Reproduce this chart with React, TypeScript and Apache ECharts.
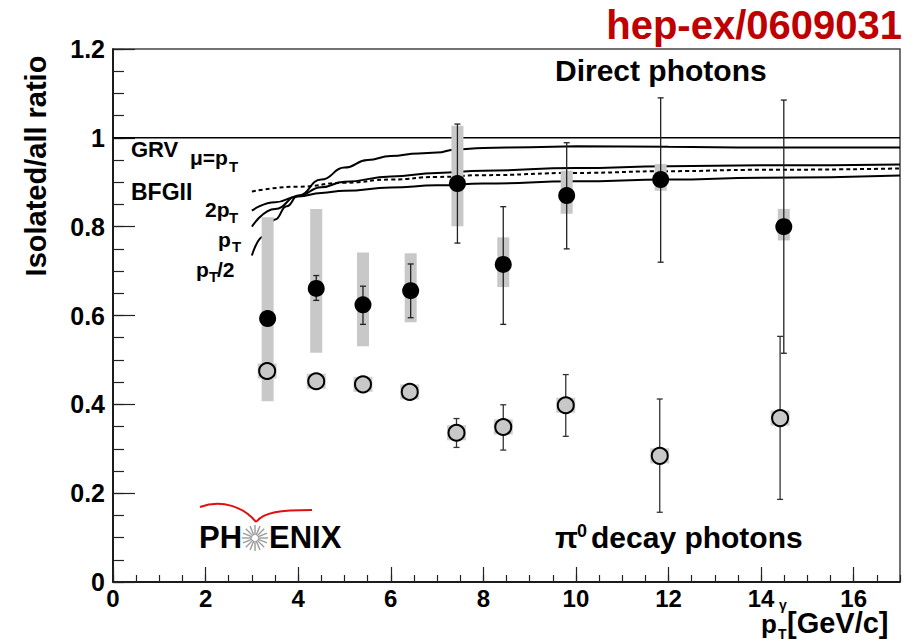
import React, { useEffect, useRef } from "react";
import * as echarts from "echarts";

// ---------------- data ----------------
const directX = [3.34, 4.39, 5.4, 6.43, 7.44, 8.43, 9.8, 11.83, 14.49];
const directY = [0.593, 0.661, 0.624, 0.656, 0.897, 0.715, 0.87, 0.906, 0.8];
const directStatLo = [0.585, 0.634, 0.58, 0.595, 0.763, 0.58, 0.75, 0.72, 0.515];
const directStatHi = [0.601, 0.69, 0.666, 0.716, 1.031, 0.845, 0.989, 1.09, 1.085];
const directSysLo = [0.407, 0.516, 0.531, 0.585, 0.801, 0.664, 0.829, 0.881, 0.769];
const directSysHi = [0.821, 0.84, 0.742, 0.74, 1.027, 0.776, 0.926, 0.941, 0.84];

const pi0X = [3.33, 4.39, 5.4, 6.41, 7.42, 8.43, 9.78, 11.81, 14.41];
const pi0Y = [0.475, 0.452, 0.445, 0.428, 0.336, 0.349, 0.398, 0.284, 0.369];
const pi0StatLo = [0.467, 0.444, 0.437, 0.42, 0.303, 0.297, 0.328, 0.157, 0.186];
const pi0StatHi = [0.483, 0.46, 0.453, 0.436, 0.368, 0.399, 0.467, 0.412, 0.553];
const pi0SysLo = [0.458, 0.435, 0.428, 0.411, 0.319, 0.332, 0.381, 0.267, 0.352];
const pi0SysHi = [0.492, 0.469, 0.462, 0.445, 0.353, 0.366, 0.415, 0.301, 0.386];

// GRV theory curves (mu = pT/2, pT, 2pT) and BFGII
const grvHalfX = [3.0, 3.25, 3.5, 3.75, 4.0, 4.5, 5.0, 5.5, 6.0, 6.6, 7.0, 7.4, 8.0, 9.0, 10, 12, 14, 17];
const grvHalfY = [0.735, 0.778, 0.816, 0.846, 0.870, 0.906, 0.933, 0.950, 0.959, 0.965, 0.967, 0.974, 0.977, 0.979, 0.981, 0.98, 0.978, 0.978];
const grvX = [3.0, 3.5, 4.0, 4.5, 5.0, 6.0, 7.0, 8.0, 10, 12, 14, 17];
const grvPtY = [0.8, 0.84, 0.869, 0.889, 0.901, 0.913, 0.921, 0.926, 0.932, 0.936, 0.938, 0.94];
const grv2PtY = [0.836, 0.855, 0.868, 0.876, 0.881, 0.888, 0.893, 0.897, 0.902, 0.906, 0.91, 0.915];
const bfgX = [3.0, 4, 5, 6, 7, 8, 10, 12, 14, 17];
const bfgY = [0.879, 0.89, 0.899, 0.906, 0.912, 0.916, 0.921, 0.925, 0.928, 0.931];
const unityX = [0, 17];
const unityY = [1, 1];

const xMin = 0, xMax = 17, xMajor = 2, xMinor = 0.5;
const yMin = 0, yMax = 1.2, yMajor = 0.2, yMinor = 0.05;

const FONT = '"Liberation Sans", Arial, Helvetica, sans-serif';

const zip = (xs: number[], ys: number[]) => xs.map((x, i) => [x, ys[i]]);

function bandSeries(xs: number[], lo: number[], hi: number[], w: number, color: string, z: number) {
  return {
    type: "custom",
    z,
    clip: true,
    encode: { x: 0, y: [1, 2] },
    data: xs.map((x, i) => [x, lo[i], hi[i]]),
    renderItem: (_p: any, api: any) => {
      const x = api.value(0), l = api.value(1), h = api.value(2);
      const top = api.coord([x, h]);
      const bot = api.coord([x, l]);
      return {
        type: "rect",
        shape: { x: top[0] - w / 2, y: top[1], width: w, height: bot[1] - top[1] },
        style: { fill: color },
      };
    },
  };
}

function errSeries(xs: number[], lo: number[], hi: number[], color: string, z: number) {
  return {
    type: "custom",
    z,
    clip: true,
    encode: { x: 0, y: [1, 2] },
    data: xs.map((x, i) => [x, lo[i], hi[i]]),
    renderItem: (_p: any, api: any) => {
      const x = api.value(0), l = api.value(1), h = api.value(2);
      const top = api.coord([x, h]);
      const bot = api.coord([x, l]);
      const cw = 3;
      const st = { stroke: color, lineWidth: 1.3 };
      return {
        type: "group",
        children: [
          { type: "line", shape: { x1: top[0], y1: top[1], x2: bot[0], y2: bot[1] }, style: st },
          { type: "line", shape: { x1: top[0] - cw, y1: top[1], x2: top[0] + cw, y2: top[1] }, style: st },
          { type: "line", shape: { x1: bot[0] - cw, y1: bot[1], x2: bot[0] + cw, y2: bot[1] }, style: st },
        ],
      };
    },
  };
}

function curve(xs: number[], ys: number[], dashed = false, width = 2) {
  return {
    type: "line",
    z: 1,
    data: zip(xs, ys),
    showSymbol: false,
    smooth: 0.5,
    smoothMonotone: "x",
    lineStyle: { color: "#000", width, type: dashed ? [4, 3] : "solid" },
    silent: true,
  };
}

// y is the text baseline
function txt(text: string, x: number, baseline: number, size: number, opts: any = {}) {
  return {
    type: "text",
    x,
    y: opts.rotation ? baseline : baseline - 0.36 * size,
    rotation: opts.rotation || 0,
    z: 50,
    style: {
      text,
      fill: opts.color || "#000",
      fontFamily: FONT,
      fontWeight: "bold",
      fontSize: size,
      align: opts.align || "left",
      verticalAlign: "middle",
    },
  };
}

const rays = Array.from({ length: 16 }, (_, i) => {
  const a = (i * Math.PI) / 8;
  const cx = 255, cy = 538;
  return {
    type: "line",
    z: 50,
    shape: {
      x1: cx + Math.cos(a) * 3,
      y1: cy + Math.sin(a) * 3,
      x2: cx + Math.cos(a) * 13,
      y2: cy + Math.sin(a) * 13,
    },
    style: { stroke: "#9a9a9a", lineWidth: 1.4 },
  };
});

export default function App() {
  const ref = useRef<HTMLDivElement>(null);
  useEffect(() => {
    if (!ref.current) return;
    const chart = echarts.init(ref.current, undefined, { renderer: "svg" });
    const axisLabel = { color: "#000", fontFamily: FONT, fontWeight: "bold", fontSize: 24 };
    chart.setOption({
      animation: false,
      backgroundColor: "#fff",
      grid: { left: 113, right: 22, top: 49, bottom: 59, show: true, borderColor: "#444", borderWidth: 1.5, backgroundColor: "transparent" },
      xAxis: [
        {
          type: "value", min: xMin, max: xMax, interval: xMajor, position: "bottom",
          axisLine: { show: true, onZero: false, lineStyle: { color: "#000", width: 1.5 } },
          axisTick: { show: true, inside: true, length: 15, lineStyle: { color: "#222", width: 1.2 } },
          axisLabel: { ...axisLabel, margin: 4, showMaxLabel: false },
          splitLine: { show: false },
        },
        {
          type: "value", min: xMin, max: xMax, interval: xMinor, position: "bottom",
          axisLine: { show: false, onZero: false },
          axisTick: { show: true, inside: true, length: 7, lineStyle: { color: "#222", width: 1.2 } },
          axisLabel: { show: false },
          splitLine: { show: false },
        },
      ],
      yAxis: [
        {
          type: "value", min: yMin, max: yMax, interval: yMajor, position: "left",
          axisLine: { show: true, onZero: false, lineStyle: { color: "#000", width: 1.5 } },
          axisTick: { show: true, inside: true, length: 22, lineStyle: { color: "#222", width: 1.2 } },
          axisLabel: { ...axisLabel, fontSize: 25, margin: 8, formatter: (v: number) => String(Math.round(v * 10) / 10) },
          splitLine: { show: false },
        },
        {
          type: "value", min: yMin, max: yMax, interval: yMinor, position: "left",
          axisLine: { show: false, onZero: false },
          axisTick: { show: true, inside: true, length: 11, lineStyle: { color: "#222", width: 1.2 } },
          axisLabel: { show: false },
          splitLine: { show: false },
        },
      ],
      series: [
        { ...curve(unityX, unityY, false, 1.5), smooth: false },
        curve(grvHalfX, grvHalfY),
        curve(grvX, grvPtY),
        curve(grvX, grv2PtY),
        curve(bfgX, bfgY, true),
        bandSeries(directX, directSysLo, directSysHi, 12, "#c8c8c8", 3),
        bandSeries(pi0X, pi0SysLo, pi0SysHi, 19, "#cfcfcf", 3),
        errSeries(directX, directStatLo, directStatHi, "#222", 4),
        errSeries(pi0X, pi0StatLo, pi0StatHi, "#333", 4),
        {
          type: "scatter", z: 5, data: zip(directX, directY), symbol: "circle", symbolSize: 17,
          itemStyle: { color: "#000", opacity: 1 }, silent: true,
        },
        {
          type: "scatter", z: 5, data: zip(pi0X, pi0Y), symbol: "circle", symbolSize: 16,
          itemStyle: { color: "#c8c8c8", borderColor: "#000", borderWidth: 2, opacity: 1 }, silent: true,
        },
      ],
      graphic: [
        txt("hep-ex/0609031", 902, 39.5, 40, { align: "right", color: "#c00000" }),
        txt("Direct photons", 555, 81.5, 30),
        txt("Isolated/all ratio", 36, 166, 29, { align: "center", rotation: Math.PI / 2 }),
        // x-axis title
        txt("p", 761, 633, 26),
        txt("T", 778, 639, 14),
        txt("γ", 779, 610, 14),
        txt("[GeV/c]", 787, 633, 29),
        // theory labels
        txt("GRV", 131, 157, 22),
        txt("μ=p", 190, 165, 21),
        txt("T", 229, 172, 15),
        txt("BFGII", 131, 200, 23),
        txt("2p", 205, 217, 21),
        txt("T", 229, 223, 15),
        txt("p", 218, 247, 21),
        txt("T", 232, 252, 15),
        txt("p", 196, 277, 21),
        txt("T", 209, 282, 15),
        txt("/2", 217, 277, 21),
        // pi0 label
        txt("π", 555, 548, 30),
        txt("0", 577, 537, 18),
        txt("decay photons", 591, 548, 30),
        // PHENIX logo
        txt("PH", 199, 549, 31),
        txt("ENIX", 269, 549, 31),
        ...rays,
        {
          type: "bezierCurve", z: 50,
          shape: { x1: 200, y1: 507, cpx1: 222, cpy1: 499, cpx2: 244, cpy2: 507, x2: 256, y2: 522 },
          style: { stroke: "#e01010", lineWidth: 2, fill: "none" },
        },
        {
          type: "bezierCurve", z: 50,
          shape: { x1: 256, y1: 522, cpx1: 264, cpy1: 512, cpx2: 280, cpy2: 510, x2: 312, y2: 510 },
          style: { stroke: "#e01010", lineWidth: 2, fill: "none" },
        },
      ],
    });
    return () => chart.dispose();
  }, []);
  return (
    <div
      ref={ref}
      style={{ position: "absolute", left: 0, top: 0, width: 922, height: 641, background: "#fff" }}
    />
  );
}
